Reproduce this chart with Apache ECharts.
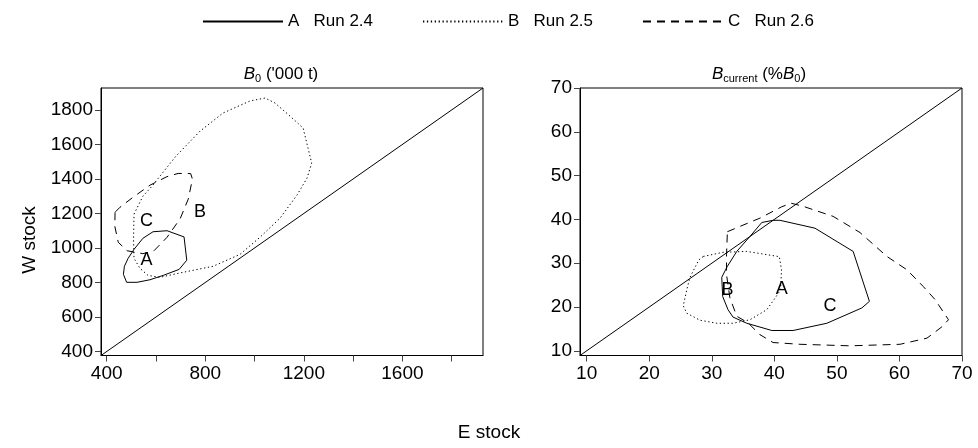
<!DOCTYPE html>
<html><head><meta charset="utf-8">
<script src="https://cdn.jsdelivr.net/npm/echarts@6/dist/echarts.min.js"></script>
<style>html,body{margin:0;padding:0;background:#fff}#c{width:978px;height:448px}</style>
</head><body><div id="c"></div>
<script>
// ---- axes ----
const b0Range = [377, 1927];
const b0TicksX = [400, 600, 800, 1000, 1200, 1400, 1600, 1800];
const b0LabelsX = [400, 800, 1200, 1600];
const b0TicksY = [400, 600, 800, 1000, 1200, 1400, 1600, 1800];
const bcurRange = [8.94, 70];
const bcurTicks = [10, 20, 30, 40, 50, 60, 70];

// ---- legend / series names ----
const seriesNames = ['A   Run 2.4', 'B   Run 2.5', 'C   Run 2.6'];

// ---- B0 ('000 t) contours: [E stock, W stock] ----
const b0_A = [[481,801],[468,847],[472,894],[487,940],[511,992],[547,1056],[588,1094],[645,1100],[714,1064],[725,929],[694,876],[629,841],[576,816],[523,801]];
const b0_B = [[511,1196],[547,1300],[584,1358],[616,1416],[681,1532],[779,1677],[872,1782],[982,1852],[1043,1869],[1083,1840],[1144,1764],[1197,1695],[1217,1579],[1232,1492],[1213,1405],[1172,1306],[1103,1172],[1022,1062],[941,963],[832,894],[710,859],[616,830],[568,841],[535,882],[511,940],[509,1045]];
const b0_C = [[434,1207],[433,1126],[447,1033],[483,984],[547,967],[592,984],[645,1062],[698,1169],[731,1283],[748,1399],[741,1431],[690,1432],[644,1413],[576,1364],[507,1294],[454,1236]];
const b0_marks = [['A',562,928],['B',779,1209],['C',562,1155]];

// ---- Bcurrent (%B0) contours ----
const bcur_A = [[39.8,39.8],[40.9,39.8],[46.5,38.0],[52.6,32.7],[55.2,21.3],[54.0,19.8],[48.4,16.3],[43.0,14.65],[39.6,14.65],[35.6,16.3],[33.4,17.7],[32.6,19.4],[31.75,22.4],[31.6,26.8],[32.5,29.3],[34.0,32.7],[36.1,36.1],[38.0,39.3]];
const bcur_B = [[28.65,31.55],[31.8,32.5],[35.6,32.7],[40.8,31.5],[41.15,28.5],[41.0,23.9],[39.95,21.7],[38.8,19.4],[36.1,17.1],[33.4,16.3],[30.8,16.3],[28.1,17.0],[26.0,18.6],[25.45,20.3],[26.0,23.9],[26.5,26.7],[27.3,29.0],[27.96,30.8]];
const bcur_C = [[32.5,37.2],[34.5,38.4],[37.7,40.3],[41.2,42.9],[42.7,43.7],[44.6,43.0],[49.4,40.7],[53.7,37.0],[58.0,31.55],[61.2,28.5],[63.8,24.7],[65.7,21.7],[67.84,17.1],[66.8,15.5],[64.4,12.9],[60.1,11.5],[52.1,11.15],[44.1,11.5],[39.8,11.9],[37.7,13.7],[35.8,16.4],[34.0,17.9],[32.9,22.1],[32.36,27.4],[32.36,31.9]];
const bcur_marks = [['B',32.5,23.9],['A',41.2,24.2],['C',48.9,20.3]];

const FONT = '"Liberation Sans", Arial, Helvetica, sans-serif';
const lineTypes = ['solid', [1.3, 2.6], [8, 6]];

function closeRing(a) { return a.concat([a[0]]); }
const plainNum = v => String(v);

function xAxisDef(gi, range, ticks, labels) {
  return {
    type: 'value', gridIndex: gi, min: range[0], max: range[1],
    axisLine: { show: true, onZero: false, lineStyle: { color: '#000', width: 1 } },
    axisTick: { show: true, inside: false, length: 6, customValues: ticks, lineStyle: { color: '#444' } },
    axisLabel: { show: true, customValues: labels, formatter: plainNum, margin: 9, fontSize: 19, color: '#000', fontFamily: FONT },
    splitLine: { show: false }
  };
}
function yAxisDef(gi, range, ticks, labels) {
  return {
    type: 'value', gridIndex: gi, min: range[0], max: range[1],
    axisLine: { show: true, onZero: false, lineStyle: { color: '#000', width: 1 } },
    axisTick: { show: true, inside: false, length: 6, customValues: ticks, lineStyle: { color: '#444' } },
    axisLabel: { show: true, customValues: labels, formatter: plainNum, margin: 8, fontSize: 19, color: '#000', fontFamily: FONT },
    splitLine: { show: false }
  };
}

function contour(name, data, gi, typeIdx) {
  return {
    type: 'line', name: name, xAxisIndex: gi, yAxisIndex: gi,
    data: closeRing(data), symbol: 'none', showSymbol: false, smooth: false, silent: true,
    lineStyle: { color: '#000', width: 1, type: lineTypes[typeIdx] },
    itemStyle: { color: '#000' }
  };
}
function diagonal(range, gi) {
  return {
    type: 'line', name: 'diag' + gi, xAxisIndex: gi, yAxisIndex: gi,
    data: [[range[0], range[0]], [range[1], range[1]]], symbol: 'none', silent: true,
    lineStyle: { color: '#000', width: 1 }
  };
}
function marks(arr, gi) {
  return {
    type: 'scatter', name: 'marks' + gi, xAxisIndex: gi, yAxisIndex: gi, silent: true,
    symbolSize: 0, itemStyle: { color: '#000' },
    data: arr.map(m => ({ name: m[0], value: [m[1], m[2]] })),
    label: { show: true, position: 'inside', formatter: '{b}', fontSize: 18, color: '#000', opacity: 1, textBorderWidth: 0, fontFamily: FONT }
  };
}

const legendBase = {
  top: 13, padding: 0, itemWidth: 80, itemHeight: 18, itemGap: 0,
  itemStyle: { opacity: 0 },
  textStyle: { fontSize: 17, color: '#000', fontFamily: FONT },
  selectedMode: false
};

const titleRich = {
  b: { fontSize: 17, fontStyle: 'italic', fontFamily: FONT, color: '#000', lineHeight: 20, verticalAlign: 'middle' },
  n: { fontSize: 17, fontFamily: FONT, color: '#000', lineHeight: 20, verticalAlign: 'middle' },
  s: { fontSize: 11, fontFamily: FONT, color: '#000', lineHeight: 12, verticalAlign: 'bottom' }
};

const option = {
  animation: false,
  backgroundColor: '#fff',
  legend: [
    Object.assign({}, legendBase, { left: 202, data: [seriesNames[0]] }),
    Object.assign({}, legendBase, { left: 422, data: [seriesNames[1]] }),
    Object.assign({}, legendBase, { left: 642, data: [seriesNames[2]] })
  ],
  grid: [
    { left: 101, top: 88, width: 382, height: 267.5, show: true, borderColor: '#000', borderWidth: 1, backgroundColor: 'transparent', containLabel: false },
    { left: 580, top: 88, width: 382, height: 267.5, show: true, borderColor: '#000', borderWidth: 1, backgroundColor: 'transparent', containLabel: false }
  ],
  xAxis: [
    xAxisDef(0, b0Range, b0TicksX, b0LabelsX),
    xAxisDef(1, bcurRange, bcurTicks, bcurTicks)
  ],
  yAxis: [
    yAxisDef(0, b0Range, b0TicksY, b0TicksY),
    yAxisDef(1, bcurRange, bcurTicks, bcurTicks)
  ],
  graphic: [
    { type: 'text', x: 281, y: 74, style: { text: '{b|B}{s|0}{n| (\'000 t)}', rich: titleRich, align: 'center', verticalAlign: 'middle' } },
    { type: 'text', x: 759, y: 74, style: { text: '{b|B}{s|current}{n| (%}{b|B}{s|0}{n|)}', rich: titleRich, align: 'center', verticalAlign: 'middle' } },
    { type: 'text', x: 30, y: 240, rotation: Math.PI / 2, style: { text: 'W stock', fontSize: 19, fontFamily: FONT, fill: '#000', align: 'center', verticalAlign: 'middle' } },
    { type: 'text', x: 489, y: 433, style: { text: 'E stock', fontSize: 19, fontFamily: FONT, fill: '#000', align: 'center', verticalAlign: 'middle' } }
  ],
  series: [
    contour(seriesNames[0], b0_A, 0, 0),
    contour(seriesNames[1], b0_B, 0, 1),
    contour(seriesNames[2], b0_C, 0, 2),
    diagonal(b0Range, 0),
    marks(b0_marks, 0),
    contour(seriesNames[0], bcur_A, 1, 0),
    contour(seriesNames[1], bcur_B, 1, 1),
    contour(seriesNames[2], bcur_C, 1, 2),
    diagonal(bcurRange, 1),
    marks(bcur_marks, 1)
  ]
};

const chart = echarts.init(document.getElementById('c'), null, { renderer: 'canvas' });
chart.setOption(option);
</script>
</body></html>
